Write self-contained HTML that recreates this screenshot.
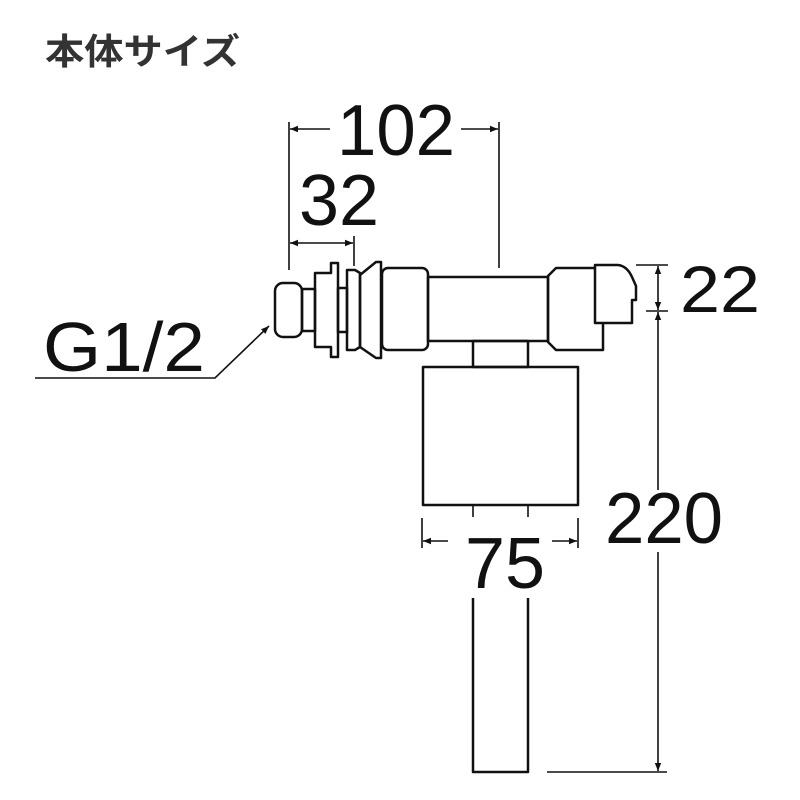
<!DOCTYPE html>
<html><head><meta charset="utf-8"><style>
html,body{margin:0;padding:0;background:#fff;}
svg{display:block;}
text{font-family:"Liberation Sans","Noto Sans CJK JP",sans-serif;fill:#111;}
</style></head><body>
<svg width="800" height="800" viewBox="0 0 800 800" xmlns="http://www.w3.org/2000/svg">
<defs>
<marker id="a" viewBox="0 0 10 10" refX="10" refY="5" markerWidth="14" markerHeight="8" orient="auto-start-reverse" markerUnits="userSpaceOnUse"><path d="M0,1 L10,5 L0,9 z" fill="#111"/></marker>
</defs>
<text x="45" y="64" font-size="36" font-weight="bold" style="fill:#333" textLength="195" lengthAdjust="spacingAndGlyphs">本体サイズ</text>

<g stroke="#111" stroke-width="2.5" fill="none" stroke-linejoin="round">
<rect x="275" y="283" width="27" height="54" rx="8"/>
<rect x="302" y="289" width="13" height="42"/>
<path d="M315,273 H331 V263 H338 V357 H331 V347 H315 Z"/>
<rect x="338" y="288" width="9" height="44"/>
<path d="M347,270 H355 L360,273 V347 L355,350 H347 Z"/>
<path d="M360,275 L376,262 H381 V358 H376 L360,347 Z"/>
<rect x="382" y="268" width="46" height="82" rx="6"/>
<rect x="428" y="277" width="120" height="64"/>
<path d="M556,268 H603 V350 H556 L548,342 V276 Z"/>
<path d="M595,265 H618 Q627,266 632,277 L636,286 V300 H632 V323 H595 Z" fill="#fff"/>
<rect x="473" y="341" width="55" height="26"/>
<rect x="423" y="367" width="155" height="138"/>
<path d="M473,598 V772 H528 V598"/>
</g>

<g stroke="#111" stroke-width="1.6" fill="none">
<path d="M473,505 V517 M528,505 V517"/>
<path d="M289,122 V270 M499,122 V268"/>
<path d="M330,129 H290" marker-end="url(#a)"/>
<path d="M461,129 H498" marker-end="url(#a)"/>
<path d="M354,236 V266"/>
<path d="M290,243 H353" marker-start="url(#a)" marker-end="url(#a)"/>
<path d="M636,265 H668 M646,311 H668"/>
<path d="M658,290 V266" marker-end="url(#a)"/>
<path d="M658,290 V310" marker-end="url(#a)"/>
<path d="M658,340 V312" marker-end="url(#a)"/>
<path d="M658,340 V490"/>
<path d="M658,552 V771" marker-end="url(#a)"/>
<path d="M547,772 H667"/>
<path d="M422,518 V548 M578,518 V548"/>
<path d="M448,541 H423" marker-end="url(#a)"/>
<path d="M552,541 H577" marker-end="url(#a)"/>
<path d="M35,378 H215 L269,326" marker-end="url(#a)"/>
</g>

<text x="337" y="155" font-size="72" textLength="118" lengthAdjust="spacingAndGlyphs">102</text>
<text x="299" y="225" font-size="72" textLength="80" lengthAdjust="spacingAndGlyphs">32</text>
<text x="680" y="312" font-size="66" textLength="80" lengthAdjust="spacingAndGlyphs">22</text>
<text x="605" y="543" font-size="72" textLength="118" lengthAdjust="spacingAndGlyphs">220</text>
<text x="465" y="588" font-size="72" textLength="80" lengthAdjust="spacingAndGlyphs">75</text>
<text x="43" y="371" font-size="70" textLength="162" lengthAdjust="spacingAndGlyphs">G1/2</text>
</svg>
</body></html>
